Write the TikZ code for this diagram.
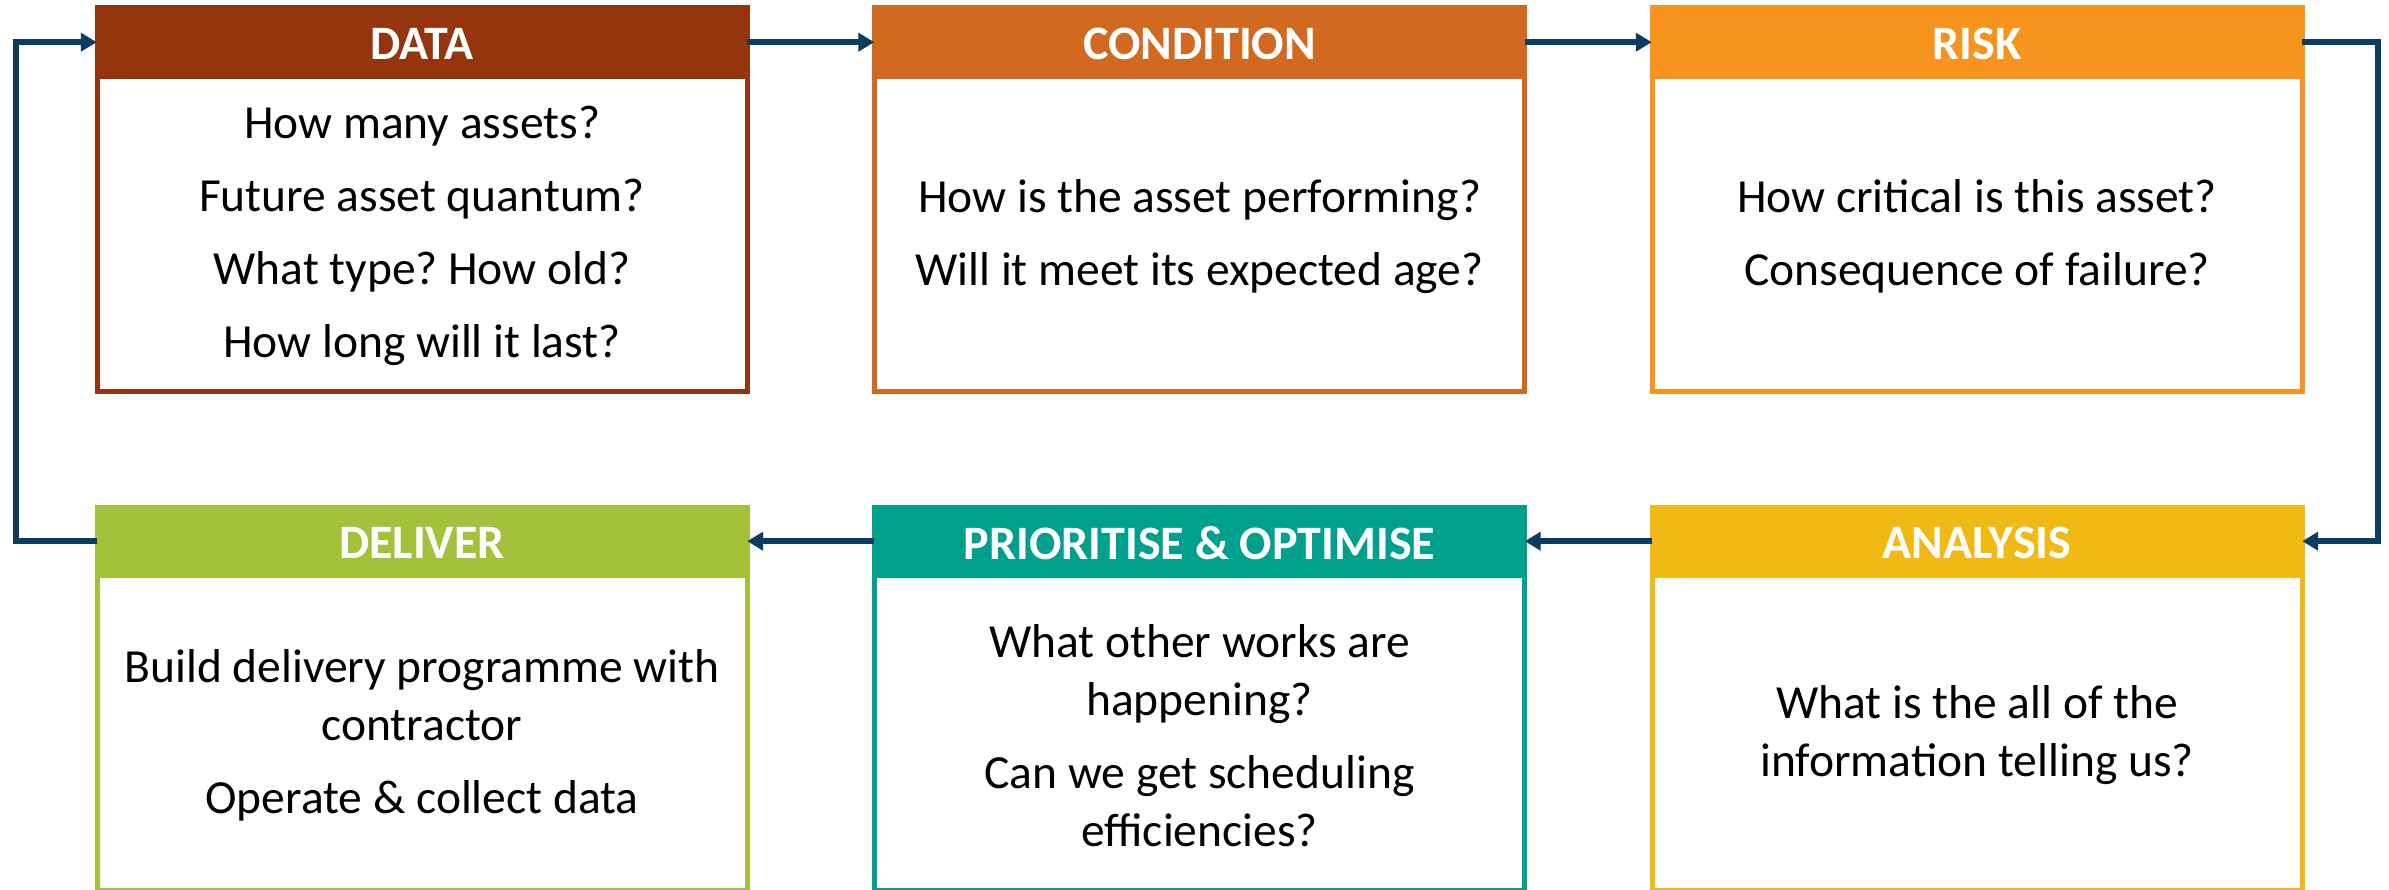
\documentclass[tikz,border=0pt]{standalone}
\usepackage{fontspec}
\setmainfont{Carlito}
\frenchspacing
\usetikzlibrary{arrows.meta,calc}
\definecolor{cData}{RGB}{149,53,14}
\definecolor{cCond}{RGB}{210,105,32}
\definecolor{cRisk}{RGB}{247,148,30}
\definecolor{cAna}{RGB}{240,185,19}
\definecolor{cPri}{RGB}{0,160,140}
\definecolor{cDel}{RGB}{163,193,58}
\definecolor{cArrow}{RGB}{12,60,96}
\begin{document}
\begin{tikzpicture}[x=1pt,y=-1pt,
  box/.style={draw=#1, line width=5pt, minimum width=650pt, minimum height=383pt, inner sep=0pt},
  head/.style={fill=#1, minimum width=650pt, minimum height=73pt, inner sep=0pt, anchor=north},
  headtext/.style={text=white, font=\fontsize{48}{56}\selectfont\bfseries, inner sep=0pt},
  body/.style={align=center, font=\fontsize{47.5}{58}\selectfont, inner sep=0pt},
  flow/.style={draw=cArrow, line width=6pt, line join=miter, -{Triangle[length=16pt,width=18pt]}}]
\useasboundingbox (0,0) rectangle (2389,890);
% top row
\node[box=cData] (data) at (422,199.5) {};
\node[head=cData] (datah) at (data.north) {};
\node[headtext] (datat) at ($(datah.center)+(0,2)$) {DATA};
\node[body] (datab) at ($(datah.south)!0.5!(data.south)$) {How many assets?\\[15pt]Future asset quantum?\\[15pt]What type? How old?\\[15pt]How long will it last?};

\node[box=cCond] (cond) at (1199.5,199.5) {};
\node[head=cCond] (condh) at (cond.north) {};
\node[headtext] (condt) at ($(condh.center)+(0,2)$) {CONDITION};
\node[body] (condb) at ($(condh.south)!0.5!(cond.south)$) {How is the asset performing?\\[15pt]Will it meet its expected age?};

\node[box=cRisk] (risk) at (1977,199.5) {};
\node[head=cRisk] (riskh) at (risk.north) {};
\node[headtext] (riskt) at ($(riskh.center)+(0,2)$) {RISK};
\node[body] (riskb) at ($(riskh.south)!0.5!(risk.south)$) {How critical is this asset?\\[15pt]Consequence of failure?};

% bottom row
\node[box=cDel] (del) at (422,698.5) {};
\node[head=cDel] (delh) at (del.north) {};
\node[headtext] (delt) at ($(delh.center)+(0,2)$) {DELIVER};
\node[body] (delb) at ($(delh.south)!0.5!(del.south)$) {Build delivery programme with\\contractor\\[15pt]Operate \& collect data};

\node[box=cPri] (pri) at (1199.5,698.5) {};
\node[head=cPri] (prih) at (pri.north) {};
\node[headtext] (prit) at ($(prih.center)+(0,2)$) {PRIORITISE \& OPTIMISE};
\node[body] (prib) at ($(prih.south)!0.5!(pri.south)$) {What other works are\\happening?\\[15pt]Can we get scheduling\\efficiencies?};

\node[box=cAna] (ana) at (1977,698.5) {};
\node[head=cAna] (anah) at (ana.north) {};
\node[headtext] (anat) at ($(anah.center)+(0,2)$) {ANALYSIS};
\node[body] (anab) at ($(anah.south)!0.5!(ana.south)$) {What is the all of the\\information telling us?};

% loop coordinates
\coordinate (rloop) at (2378,0);
\coordinate (lloop) at (16,0);

% connectors
\draw[flow] (datah.east) -- (condh.west);
\draw[flow] (condh.east) -- (riskh.west);
\draw[flow] (riskh.east) -- (riskh.east -| rloop) -- (anah.east -| rloop) -- (anah.east);
\draw[flow] (anah.west) -- (prih.east);
\draw[flow] (prih.west) -- (delh.east);
\draw[flow] (delh.west) -- (delh.west -| lloop) -- (datah.west -| lloop) -- (datah.west);
\end{tikzpicture}
\end{document}
